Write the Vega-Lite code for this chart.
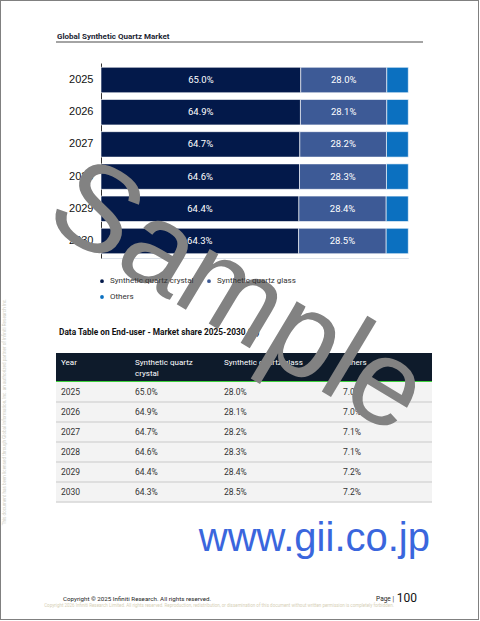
{
  "$schema": "https://vega.github.io/schema/vega-lite/v6.json",
  "padding": 0,
  "autosize": {"type": "pad"},
  "background": "white",
  "bounds": "flush",
  "spacing": 0,
  "columns": 5,
  "align": "each",
  "config": {"view": {"stroke": null}, "font": "Roboto", "concat": {"spacing": 0}},
  "datasets": {
    "share": [
      {"Year": "2025", "Segment": "Synthetic quartz crystal", "Share": 0.650},
      {"Year": "2025", "Segment": "Synthetic quartz glass", "Share": 0.280},
      {"Year": "2025", "Segment": "Others", "Share": 0.070},
      {"Year": "2026", "Segment": "Synthetic quartz crystal", "Share": 0.649},
      {"Year": "2026", "Segment": "Synthetic quartz glass", "Share": 0.281},
      {"Year": "2026", "Segment": "Others", "Share": 0.070},
      {"Year": "2027", "Segment": "Synthetic quartz crystal", "Share": 0.647},
      {"Year": "2027", "Segment": "Synthetic quartz glass", "Share": 0.282},
      {"Year": "2027", "Segment": "Others", "Share": 0.071},
      {"Year": "2028", "Segment": "Synthetic quartz crystal", "Share": 0.646},
      {"Year": "2028", "Segment": "Synthetic quartz glass", "Share": 0.283},
      {"Year": "2028", "Segment": "Others", "Share": 0.071},
      {"Year": "2029", "Segment": "Synthetic quartz crystal", "Share": 0.644},
      {"Year": "2029", "Segment": "Synthetic quartz glass", "Share": 0.284},
      {"Year": "2029", "Segment": "Others", "Share": 0.072},
      {"Year": "2030", "Segment": "Synthetic quartz crystal", "Share": 0.643},
      {"Year": "2030", "Segment": "Synthetic quartz glass", "Share": 0.285},
      {"Year": "2030", "Segment": "Others", "Share": 0.072}
    ],
    "columns": [
      {"Column": "Year", "Header": "Year"},
      {"Column": "Synthetic quartz crystal", "Header": "Synthetic quartz\ncrystal"},
      {"Column": "Synthetic quartz glass", "Header": "Synthetic quartz glass"},
      {"Column": "Others", "Header": "Others"}
    ]
  },
  "concat": [
    {"width": 1, "height": 1, "view": {"fill": "#808080"}, "data": {"values": []}, "mark": "point", "encoding": {}},
    {"width": 55, "height": 1, "view": {"fill": "#808080"}, "data": {"values": []}, "mark": "point", "encoding": {}},
    {"width": 376, "height": 1, "view": {"fill": "#808080"}, "data": {"values": []}, "mark": "point", "encoding": {}},
    {"width": 46, "height": 1, "view": {"fill": "#808080"}, "data": {"values": []}, "mark": "point", "encoding": {}},
    {"width": 1, "height": 1, "view": {"fill": "#808080"}, "data": {"values": []}, "mark": "point", "encoding": {}},

    {"width": 1, "height": 41, "view": {"fill": "#808080"}, "data": {"values": []}, "mark": "point", "encoding": {}},
    {"width": 55, "height": 1, "data": {"values": []}, "mark": "point", "encoding": {}},
    {"width": 376, "height": 1, "data": {"values": []}, "mark": "point", "encoding": {}},
    {"width": 46, "height": 1, "data": {"values": []}, "mark": "point", "encoding": {}},
    {"width": 1, "height": 41, "view": {"fill": "#808080"}, "data": {"values": []}, "mark": "point", "encoding": {}},

    {"width": 1, "height": 21, "view": {"fill": "#808080"}, "data": {"values": []}, "mark": "point", "encoding": {}},
    {"width": 55, "height": 1, "data": {"values": []}, "mark": "point", "encoding": {}},
    {
      "width": 367, "height": 21,
      "title": {"text": "Global Synthetic Quartz Market", "anchor": "start", "frame": "group", "fontSize": 8, "fontWeight": "bold", "font": "Roboto", "color": "#1b2533", "offset": -6, "baseline": "alphabetic", "dx": 1},
      "data": {"values": [{}]},
      "mark": {"type": "rule", "color": "#4a4a4a", "strokeWidth": 1.2},
      "encoding": {"y": {"datum": 1, "type": "quantitative", "scale": {"domain": [0, 1]}, "axis": null}}
    },
    {"width": 46, "height": 1, "data": {"values": []}, "mark": "point", "encoding": {}},
    {"width": 1, "height": 21, "view": {"fill": "#808080"}, "data": {"values": []}, "mark": "point", "encoding": {}},

    {"width": 1, "height": 195, "view": {"fill": "#808080"}, "data": {"values": []}, "mark": "point", "encoding": {}},
    {"width": 55, "height": 1, "data": {"values": []}, "mark": "point", "encoding": {}},
    {
      "width": 352.3, "height": 195,
      "data": {"name": "share"},
      "encoding": {
        "y": {"field": "Year", "type": "nominal", "scale": {"paddingInner": 0.21, "paddingOuter": 0.133},
          "axis": {"title": null, "offset": -45, "domainColor": "#333333", "domainWidth": 1, "ticks": false, "tickSize": 0, "labelFontSize": 11, "labelColor": "#111111", "labelFont": "Liberation Sans", "labelPadding": 8}}
      },
      "layer": [
        {
          "mark": {"type": "bar", "stroke": "white", "strokeWidth": 0.6},
          "encoding": {
            "x": {"field": "Share", "type": "quantitative", "stack": "zero", "scale": {"domain": [0, 1], "range": [45, 352.3]},
              "axis": {"title": null, "labels": false, "ticks": false, "grid": false, "domainColor": "#dde2ea", "domainWidth": 1}},
            "color": {"field": "Segment", "type": "nominal",
              "scale": {"domain": ["Synthetic quartz crystal", "Synthetic quartz glass", "Others"], "range": ["#03194a", "#3d5a96", "#0b70c0"]},
              "legend": {"orient": "none", "legendX": 98, "legendY": 277, "direction": "horizontal", "columns": 2, "title": null, "symbolType": "circle", "symbolSize": 28, "labelFontSize": 8, "labelColor": "#333333", "labelFont": "Roboto", "rowPadding": 4, "columnPadding": 9, "labelOffset": 4}},
            "order": {"field": "Share", "sort": "descending"}
          }
        },
        {
          "transform": [{"filter": {"not": {"field": "Segment", "equal": "Others"}}}],
          "mark": {"type": "text", "color": "white", "fontSize": 9.5, "font": "Roboto"},
          "encoding": {
            "x": {"field": "Share", "type": "quantitative", "stack": "zero", "bandPosition": 0.5},
            "detail": {"field": "Segment"},
            "order": {"field": "Share", "sort": "descending"},
            "text": {"field": "Share", "format": ".1%"}
          }
        }
      ]
    },
    {"width": 46, "height": 1, "data": {"values": []}, "mark": "point", "encoding": {}},
    {"width": 1, "height": 195, "view": {"fill": "#808080"}, "data": {"values": []}, "mark": "point", "encoding": {}},

    {"width": 1, "height": 95, "view": {"fill": "#808080"}, "data": {"values": []}, "mark": "point", "encoding": {}},
    {"width": 55, "height": 1, "data": {"values": []}, "mark": "point", "encoding": {}},
    {"width": 376, "height": 1, "data": {"values": []}, "mark": "point", "encoding": {}},
    {"width": 46, "height": 1, "data": {"values": []}, "mark": "point", "encoding": {}},
    {"width": 1, "height": 95, "view": {"fill": "#808080"}, "data": {"values": []}, "mark": "point", "encoding": {}},

    {"width": 1, "height": 29, "view": {"fill": "#808080"}, "data": {"values": []}, "mark": "point", "encoding": {}},
    {"width": 55, "height": 1, "data": {"values": []}, "mark": "point", "encoding": {}},
    {
      "width": 376, "height": 29,
      "title": {"text": "Data Table on End-user - Market share 2025-2030 (%)", "anchor": "start", "frame": "group", "fontSize": 8.3, "fontWeight": "bold", "font": "Roboto", "color": "#111111", "offset": 10, "baseline": "alphabetic", "dx": 3},
      "view": {"fill": "#0e1b2b"},
      "data": {"name": "columns"},
      "encoding": {
        "x": {"field": "Column", "type": "nominal", "scale": {"type": "point", "domain": ["Year", "Synthetic quartz crystal", "Synthetic quartz glass", "Others"], "padding": 0.5}, "axis": null},
        "y": {"datum": 1, "type": "quantitative", "scale": {"domain": [0, 1]}, "axis": null},
        "text": {"field": "Header"}
      },
      "layer": [
        {"transform": [{"filter": {"field": "Column", "equal": "Year"}}],
         "mark": {"type": "text", "align": "left", "baseline": "top", "dx": -42, "dy": 6, "color": "white", "fontSize": 8, "lineBreak": "\n", "lineHeight": 11}},
        {"transform": [{"filter": {"field": "Column", "equal": "Synthetic quartz crystal"}}],
         "mark": {"type": "text", "align": "left", "baseline": "top", "dx": -62, "dy": 6, "color": "white", "fontSize": 8, "lineBreak": "\n", "lineHeight": 11}},
        {"transform": [{"filter": {"field": "Column", "equal": "Synthetic quartz glass"}}],
         "mark": {"type": "text", "align": "left", "baseline": "top", "dx": -67, "dy": 6, "color": "white", "fontSize": 8, "lineBreak": "\n", "lineHeight": 11}},
        {"transform": [{"filter": {"field": "Column", "equal": "Others"}}],
         "mark": {"type": "text", "align": "left", "baseline": "top", "dx": -42, "dy": 6, "color": "white", "fontSize": 8, "lineBreak": "\n", "lineHeight": 11}},
        {"mark": {"type": "rule", "color": "#3ccf3c", "strokeWidth": 2},
         "encoding": {"x": null, "text": null, "y": {"datum": 0, "type": "quantitative"}}}
      ]
    },
    {"width": 46, "height": 1, "data": {"values": []}, "mark": "point", "encoding": {}},
    {"width": 1, "height": 29, "view": {"fill": "#808080"}, "data": {"values": []}, "mark": "point", "encoding": {}},

    {"width": 1, "height": 120, "view": {"fill": "#808080"}, "data": {"values": []}, "mark": "point", "encoding": {}},
    {
      "width": 55, "height": 120,
      "data": {"values": [{"t": "This document has been licensed through Global Information, Inc. an authorized partner of Infiniti Research Inc."}]},
      "mark": {"type": "text", "angle": 270, "fontSize": 4.6, "color": "#cfcfc4", "align": "center", "baseline": "middle", "dx": 30, "dy": -23.5},
      "encoding": {"text": {"field": "t"}}
    },
    {
      "width": 376, "height": 120,
      "data": {"name": "share"},
      "encoding": {
        "y": {"field": "Year", "type": "nominal", "scale": {"paddingInner": 0, "paddingOuter": 0}, "axis": null}
      },
      "layer": [
        {"mark": {"type": "bar", "color": "#f3f3f3"}},
        {"mark": {"type": "rule", "color": "#dcdcdc", "strokeWidth": 1.2}, "encoding": {"y": {"field": "Year", "type": "nominal", "bandPosition": 1}}},
        {"transform": [{"filter": {"field": "Segment", "equal": "Synthetic quartz crystal"}}],
         "mark": {"type": "text", "align": "left", "dx": -42, "fontSize": 8.5, "color": "#333333"},
         "encoding": {"x": {"datum": "Year", "type": "nominal", "scale": {"type": "point", "domain": ["Year", "Synthetic quartz crystal", "Synthetic quartz glass", "Others"], "padding": 0.5}, "axis": null}, "text": {"field": "Year"}}},
        {"transform": [{"filter": {"field": "Segment", "equal": "Synthetic quartz crystal"}}],
         "mark": {"type": "text", "align": "left", "dx": -62, "fontSize": 8.5, "color": "#333333"},
         "encoding": {"x": {"field": "Segment", "type": "nominal", "scale": {"type": "point", "domain": ["Year", "Synthetic quartz crystal", "Synthetic quartz glass", "Others"], "padding": 0.5}, "axis": null}, "text": {"field": "Share", "format": ".1%"}}},
        {"transform": [{"filter": {"field": "Segment", "equal": "Synthetic quartz glass"}}],
         "mark": {"type": "text", "align": "left", "dx": -67, "fontSize": 8.5, "color": "#333333"},
         "encoding": {"x": {"field": "Segment", "type": "nominal", "scale": {"type": "point", "domain": ["Year", "Synthetic quartz crystal", "Synthetic quartz glass", "Others"], "padding": 0.5}, "axis": null}, "text": {"field": "Share", "format": ".1%"}}},
        {"transform": [{"filter": {"field": "Segment", "equal": "Others"}}],
         "mark": {"type": "text", "align": "left", "dx": -42, "fontSize": 8.5, "color": "#333333"},
         "encoding": {"x": {"field": "Segment", "type": "nominal", "scale": {"type": "point", "domain": ["Year", "Synthetic quartz crystal", "Synthetic quartz glass", "Others"], "padding": 0.5}, "axis": null}, "text": {"field": "Share", "format": ".1%"}}}
      ]
    },
    {"width": 46, "height": 1, "data": {"values": []}, "mark": "point", "encoding": {}},
    {"width": 1, "height": 120, "view": {"fill": "#808080"}, "data": {"values": []}, "mark": "point", "encoding": {}},

    {"width": 1, "height": 117, "view": {"fill": "#808080"}, "data": {"values": []}, "mark": "point", "encoding": {}},
    {"width": 55, "height": 1, "data": {"values": []}, "mark": "point", "encoding": {}},
    {
      "width": 376, "height": 117,
      "layer": [
        {"data": {"values": [{"t": "www.gii.co.jp"}]},
         "mark": {"type": "text", "align": "right", "baseline": "alphabetic", "fontSize": 40, "font": "Liberation Sans", "color": "#3a66dd", "dx": 186, "dy": -9.5},
         "encoding": {"text": {"field": "t"}}},
        {"data": {"values": [{"t": "Copyright © 2025 Infiniti Research. All rights reserved."}]},
         "mark": {"type": "text", "align": "left", "baseline": "alphabetic", "fontSize": 6.2, "color": "#222222", "dx": -181, "dy": 40.5},
         "encoding": {"text": {"field": "t"}}},
        {"data": {"values": [{"t": "Page |"}]},
         "mark": {"type": "text", "align": "right", "baseline": "alphabetic", "fontSize": 6.5, "color": "#222222", "dx": 150, "dy": 40.5},
         "encoding": {"text": {"field": "t"}}},
        {"data": {"values": [{"t": "100"}]},
         "mark": {"type": "text", "align": "right", "baseline": "alphabetic", "fontSize": 12, "color": "#111111", "dx": 173, "dy": 41},
         "encoding": {"text": {"field": "t"}}},
        {"data": {"values": [{"t": "Copyright 2026 Infiniti Research Limited. All rights reserved. Reproduction, redistribution, or dissemination of this document without written permission is completely forbidden."}]},
         "mark": {"type": "text", "align": "center", "baseline": "middle", "fontSize": 4.5, "color": "#d6cfb6", "dx": -25, "dy": 45.5},
         "encoding": {"text": {"field": "t"}}},
        {"data": {"values": [{"t": "Sample"}]},
         "mark": {"type": "text", "align": "center", "baseline": "middle", "fontSize": 122, "font": "Liberation Sans", "color": "#828282", "angle": 31, "dx": -140.3, "dy": -221.9},
         "encoding": {"text": {"field": "t"}}}
      ]
    },
    {"width": 46, "height": 1, "data": {"values": []}, "mark": "point", "encoding": {}},
    {"width": 1, "height": 117, "view": {"fill": "#808080"}, "data": {"values": []}, "mark": "point", "encoding": {}},

    {"width": 1, "height": 1, "view": {"fill": "#808080"}, "data": {"values": []}, "mark": "point", "encoding": {}},
    {"width": 55, "height": 1, "view": {"fill": "#808080"}, "data": {"values": []}, "mark": "point", "encoding": {}},
    {"width": 376, "height": 1, "view": {"fill": "#808080"}, "data": {"values": []}, "mark": "point", "encoding": {}},
    {"width": 46, "height": 1, "view": {"fill": "#808080"}, "data": {"values": []}, "mark": "point", "encoding": {}},
    {"width": 1, "height": 1, "view": {"fill": "#808080"}, "data": {"values": []}, "mark": "point", "encoding": {}}
  ]
}
